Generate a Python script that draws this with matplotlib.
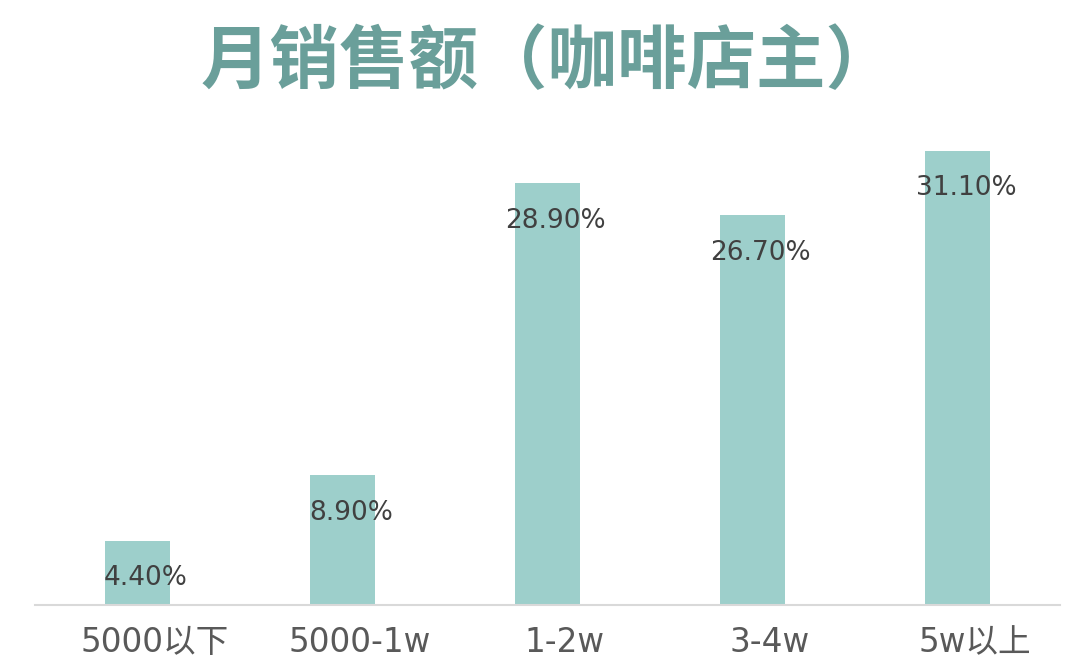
import matplotlib.pyplot as plt
from matplotlib.transforms import ScaledTranslation

plt.rcParams["font.family"] = ["DejaVu Sans", "Noto Sans CJK SC"]

categories = ["5000以下", "5000-1w", "1-2w", "3-4w", "5w以上"]
values = [4.4, 8.9, 28.9, 26.7, 31.1]
labels = ["4.40%", "8.90%", "28.90%", "26.70%", "31.10%"]

fig = plt.figure(figsize=(10.8, 6.64), dpi=100)
ax = fig.add_axes([0.0324, 0.0889, 0.9491, 0.73])

rects = ax.bar(range(len(values)), values, width=0.317, color="#9dcfcb")
for rect, lab in zip(rects, labels):
    ax.annotate(lab, (rect.get_x() + rect.get_width() / 2, rect.get_height()),
                xytext=(6, -27), textcoords="offset points",
                ha="center", va="center", fontsize=19, color="#404040")

ax.set_xlim(-0.5, 4.5)
ax.set_ylim(0, 33.2)
ax.set_xticks(range(len(categories)))
ax.set_xticklabels(categories, fontsize=23.5, color="#595959")
ax.tick_params(axis="x", length=0, pad=15)
shift = ScaledTranslation(0.17, 0, fig.dpi_scale_trans)
for t in ax.get_xticklabels():
    t.set_transform(t.get_transform() + shift)
ax.set_yticks([])
for s in ["top", "right", "left"]:
    ax.spines[s].set_visible(False)
ax.spines["bottom"].set_color("#d9d9d9")
ax.spines["bottom"].set_linewidth(1.5)

fig.text(0.507, 0.905, "月销售额（咖啡店主）", ha="center", va="center",
         family=["Noto Sans CJK SC"], fontsize=50, fontweight="bold",
         color="#6a9f9a")

fig.savefig("out.png")
